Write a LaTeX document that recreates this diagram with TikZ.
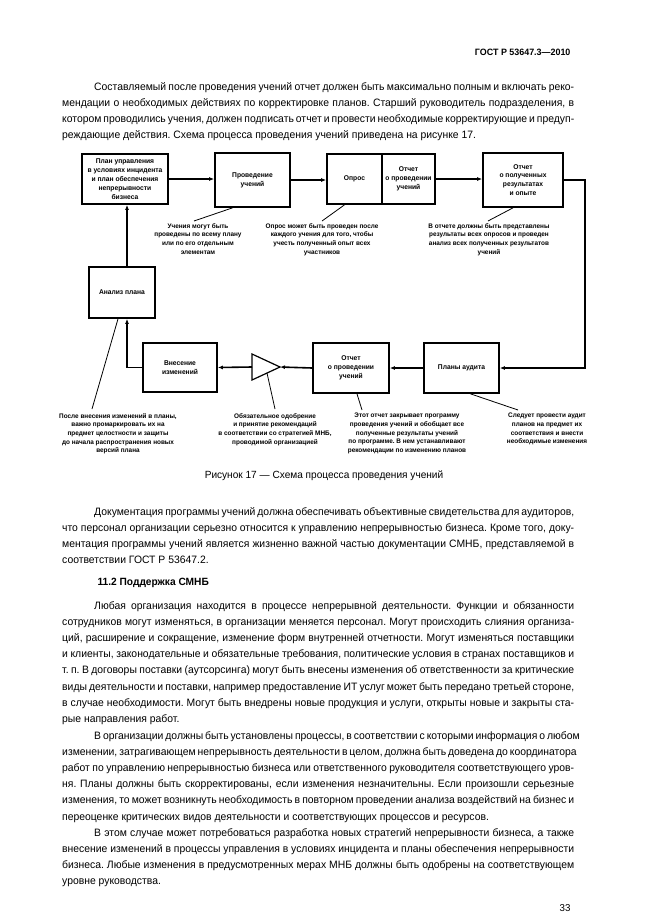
\documentclass[tikz,border=0pt]{standalone}
\usepackage{fontspec}
\setmainfont{Liberation Sans}[FakeStretch=0.97]
\usetikzlibrary{arrows.meta}
\frenchspacing

% stroka, rastyanutaya na vsyu shirinu polosy
\newcommand\rovno[1]{\makebox[512pt][s]{#1}}
\newcommand\abz{\hspace*{32pt}}

\tikzset{
  blok/.style={draw, line width=1.7pt, align=center, inner sep=1pt,
    font=\fontsize{6.9}{8.9}\selectfont\bfseries},
  potok/.style={line width=1.6pt, -{Latex[length=5pt,width=4pt]}},
  vynoska/.style={line width=0.8pt},
  primech/.style={anchor=north, align=center, inner sep=0pt,
    font=\fontsize{6.6}{8.7}\selectfont\bfseries},
  abzac/.style={anchor=north west, align=left, inner sep=0pt,
    font=\fontsize{10.7}{16.2}\selectfont}
}

\begin{document}
\begin{tikzpicture}[x=1pt,y=-1pt]
\useasboundingbox[fill=white] (0,0) rectangle (646,913);

\node[anchor=east, font=\fontsize{9.2}{12}\selectfont\bfseries] (shapka) at (574,52) {ГОСТ Р 53647.3—2010};

\node[abzac] (abz1) at (62,82) {%
\rovno{\abz Составляемый после проведения учений отчет должен быть максимально полным и включать реко-}\\
\rovno{мендации о необходимых действиях по корректировке планов. Старший руководитель подразделения, в}\\
\rovno{котором проводились учения, должен подписать отчет и провести необходимые корректирующие и предуп-}\\
реждающие действия. Схема процесса проведения учений приведена на рисунке 17.};

% --- skhema ---
\node[blok, minimum width=86pt, minimum height=50pt] (plan) at (125,179) {План управления\\в условиях инцидента\\и план обеспечения\\непрерывности\\бизнеса};
\node[blok, minimum width=75pt, minimum height=54pt] (prov) at (252.5,180) {Проведение\\учений};
\node[blok, minimum width=55pt, minimum height=50pt] (opros) at (354.5,179) {Опрос};
\node[blok, minimum width=53pt, minimum height=50pt] (otch1) at (408.5,179) {Отчет\\о проведении\\учений};
\node[blok, minimum width=80pt, minimum height=54pt] (rez) at (523,180) {Отчет\\о полученных\\результатах\\и опыте};
\node[blok, minimum width=66pt, minimum height=51pt] (analiz) at (122,292.5) {Анализ плана};
\node[blok, minimum width=74pt, minimum height=49pt] (vnes) at (180,367.5) {Внесение\\изменений};
\node[blok, minimum width=76pt, minimum height=50pt] (otch2) at (351,368) {Отчет\\о проведении\\учений};
\node[blok, minimum width=75pt, minimum height=50pt] (audit) at (461.5,368) {Планы аудита};

\coordinate (usil) at (280,367);
\coordinate (usilL) at (252,367);
\coordinate (usilN) at (267,373);
\draw[line width=1.2pt] (252,354) -- (usil) -- (252,380) -- cycle;

\draw[potok] (plan.east) -- (plan.east -| prov.west);
\draw[potok] (prov.east) -- (prov.east -| opros.west);
\draw[potok] (otch1.east) -- (otch1.east -| rez.west);
\draw[potok] (rez.east) -- ++(21,0) |- (audit.east);
\draw[potok] (audit.west) -- (otch2.east);
\draw[potok] (otch2.west) -- (usil);
\draw[potok] (usilL) -- (vnes.east);
\draw[potok] (vnes.west) -| ([xshift=5pt]analiz.south);
\draw[potok] ([xshift=5pt]analiz.north) -- ([xshift=5pt]analiz.north |- plan.south);

\node[primech] (n1) at (198,223) {Учения могут быть\\проведены по всему плану\\или по его отдельным\\элементам};
\node[primech] (n2) at (322,223) {Опрос может быть проведен после\\каждого учения для того, чтобы\\учесть полученный опыт всех\\участников};
\node[primech] (n3) at (489,223) {В отчете должны быть представлены\\результаты всех опросов и проведен\\анализ всех полученных результатов\\учений};
\node[primech] (n4) at (118,413) {После внесения изменений в планы,\\важно промаркировать их на\\предмет целостности и защиты\\до начала распространения новых\\версий плана};
\node[primech] (n5) at (275,413) {Обязательное одобрение\\и принятие рекомендаций\\в соответствии со стратегией МНБ,\\проводимой организацией};
\node[primech] (n6) at (407,413) {Этот отчет закрывает программу\\проведения учений и обобщает все\\полученные результаты учений\\по программе. В нем устанавливают\\рекомендации по изменению планов};
\node[primech] (n7) at (547,413) {Следует провести аудит\\планов на предмет их\\соответствия и внести\\необходимые изменения};

\draw[vynoska] ([xshift=-20pt]prov.south) -- ([xshift=-4pt,yshift=2pt]n1.north);
\draw[vynoska] ([xshift=-10pt]opros.south) -- ([yshift=2pt]n2.north);
\draw[vynoska] ([xshift=-10pt]rez.south) -- ([xshift=-1pt,yshift=2pt]n3.north);
\draw[vynoska] ([xshift=-4pt]analiz.south) -- ([xshift=-26pt,yshift=4pt]n4.north);
\draw[vynoska] (usilN) -- ([yshift=4pt]n5.north);
\draw[vynoska] ([xshift=6pt]otch2.south) -- ([xshift=-45pt,yshift=3pt]n6.north);
\draw[vynoska] ([xshift=9pt]audit.south) -- ([xshift=-29pt,yshift=3pt]n7.north);

\node[font=\fontsize{10.4}{12}\selectfont] (podpis) at (324,476) {Рисунок 17 — Схема процесса проведения учений};

\node[abzac] (abz2) at (62,507) {%
\rovno{\abz Документация программы учений должна обеспечивать объективные свидетельства для аудиторов,}\\
\rovno{что персонал организации серьезно относится к управлению непрерывностью бизнеса. Кроме того, доку-}\\
\rovno{ментация программы учений является жизненно важной частью документации СМНБ, представляемой в}\\
соответствии ГОСТ Р 53647.2.};

\node[anchor=west, font=\fontsize{10.5}{12}\selectfont\bfseries] (razdel) at (94,583) {11.2 Поддержка СМНБ};

\node[abzac] (abz3) at (62,601) {%
\rovno{\abz Любая организация находится в процессе непрерывной деятельности. Функции и обязанности}\\
\rovno{сотрудников могут изменяться, в организации меняется персонал. Могут происходить слияния организа-}\\
\rovno{ций, расширение и сокращение, изменение форм внутренней отчетности. Могут изменяться поставщики}\\
\rovno{и клиенты, законодательные и обязательные требования, политические условия в странах поставщиков и}\\
\rovno{т. п. В договоры поставки (аутсорсинга) могут быть внесены изменения об ответственности за критические}\\
\rovno{виды деятельности и поставки, например предоставление ИТ услуг может быть передано третьей стороне,}\\
\rovno{в случае необходимости. Могут быть внедрены новые продукция и услуги, открыты новые и закрыты ста-}\\
рые направления работ.};

\node[abzac] (abz4) at (62,731) {%
\rovno{\abz В организации должны быть установлены процессы, в соответствии с которыми информация о любом}\\
\rovno{изменении, затрагивающем непрерывность деятельности в целом, должна быть доведена до координатора}\\
\rovno{работ по управлению непрерывностью бизнеса или ответственного руководителя соответствующего уров-}\\
\rovno{ня. Планы должны быть скорректированы, если изменения незначительны. Если произошли серьезные}\\
\rovno{изменения, то может возникнуть необходимость в повторном проведении анализа воздействий на бизнес и}\\
переоценке критических видов деятельности и соответствующих процессов и ресурсов.};

\node[abzac] (abz5) at (62,828) {%
\rovno{\abz В этом случае может потребоваться разработка новых стратегий непрерывности бизнеса, а также}\\
\rovno{внесение изменений в процессы управления в условиях инцидента и планы обеспечения непрерывности}\\
\rovno{бизнеса. Любые изменения в предусмотренных мерах МНБ должны быть одобрены на соответствующем}\\
уровне руководства.};

\node[anchor=east, font=\fontsize{10}{12}\selectfont] (stranica) at (574,908) {33};
\end{tikzpicture}
\end{document}
